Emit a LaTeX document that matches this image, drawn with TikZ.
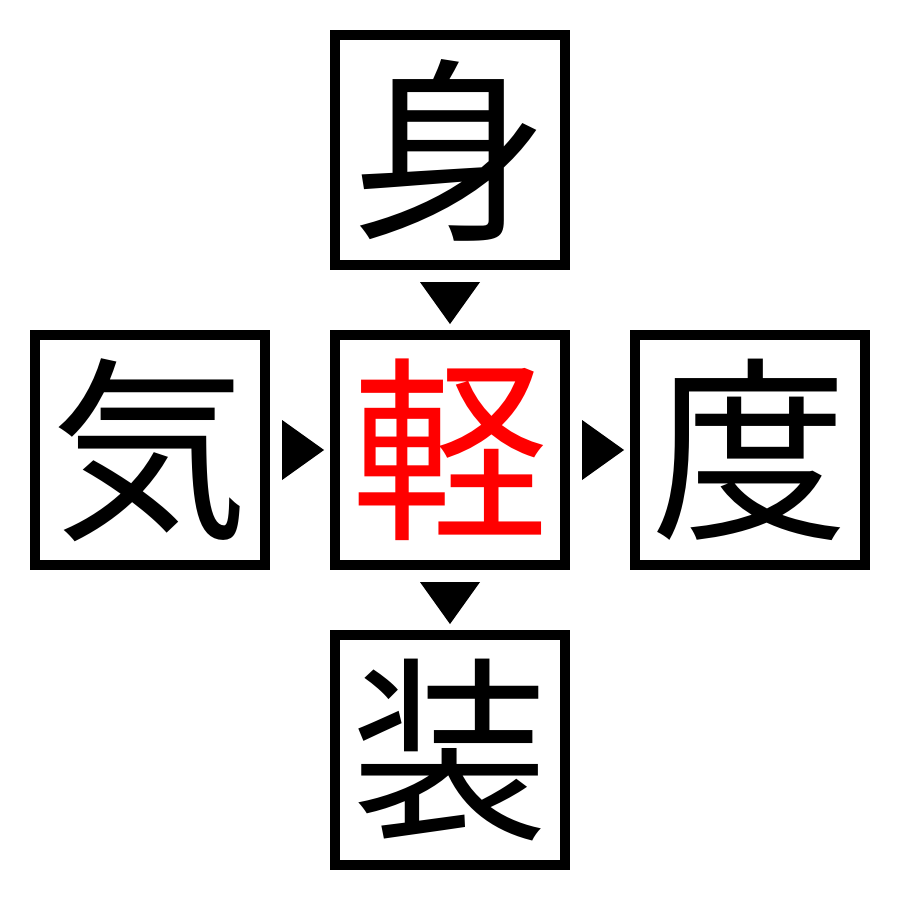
\documentclass[tikz,border=0pt]{standalone}
\usepackage{fontspec}
\newfontfamily\cjk{Noto Sans CJK JP}
\usetikzlibrary{calc}
\begin{document}
\begin{tikzpicture}[x=0.01cm,y=-0.01cm,
  box/.style={draw=black,line width=0.1cm,minimum size=2.3cm,inner sep=0pt,
    font=\cjk\fontsize{56}{56}\selectfont},
  tri/.style={fill=black}]
\useasboundingbox (0,0) rectangle (900,900);
\fill[white] (0,0) rectangle (900,900);
\node[box] (top) at (450,150) {身};
\node[box] (lft) at (150,450) {気};
\node[box,text=red] (ctr) at (450,450) {軽};
\node[box] (rgt) at (750,450) {度};
\node[box] (bot) at (450,750) {装};
% top -> center
\fill[tri] ($(top.south)+(-30,12)$) -- ($(top.south)+(30,12)$) -- ($(top.south)+(0,54)$) -- cycle;
% center -> bottom
\fill[tri] ($(ctr.south)+(-30,12)$) -- ($(ctr.south)+(30,12)$) -- ($(ctr.south)+(0,54)$) -- cycle;
% left -> center
\fill[tri] ($(lft.east)+(12,-30)$) -- ($(lft.east)+(12,30)$) -- ($(lft.east)+(54,0)$) -- cycle;
% center -> right
\fill[tri] ($(ctr.east)+(12,-30)$) -- ($(ctr.east)+(12,30)$) -- ($(ctr.east)+(54,0)$) -- cycle;
\end{tikzpicture}
\end{document}
